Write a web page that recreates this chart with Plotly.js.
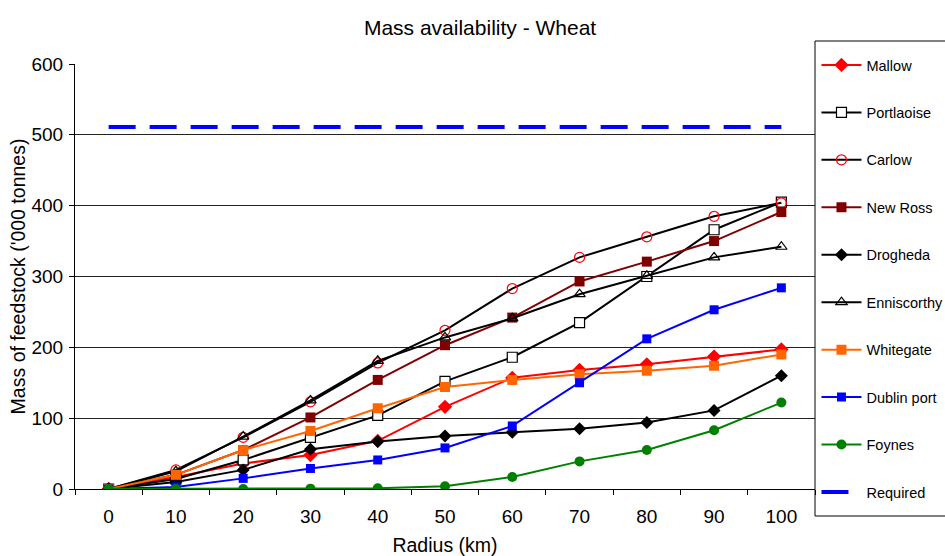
<!DOCTYPE html>
<html>
<head>
<meta charset="utf-8">
<script src="https://cdn.plot.ly/plotly-3.0.1.min.js"></script>
<style>html,body{margin:0;padding:0;background:#fff;}#chart{width:945px;height:556px;}</style>
</head>
<body>
<div id="chart"></div>
<script>
const radius = ["0","10","20","30","40","50","60","70","80","90","100"];
const mallow      = [0, 17, 36, 48, 68, 116, 157, 168, 176, 187, 197];
const portlaoise  = [0, 14, 41, 73, 104, 152, 186, 235, 300, 366, 405];
const carlow      = [0, 27, 73, 123, 178, 224, 283, 327, 356, 385, 404];
const newRoss     = [0, 20, 55, 101, 154, 203, 242, 293, 321, 350, 391];
const drogheda    = [0, 10, 27, 56, 67, 75, 80, 85, 94, 111, 160];
const enniscorthy = [0, 25, 74, 125, 181, 214, 241, 275, 301, 327, 342];
const whitegate   = [0, 20, 55, 82, 114, 144, 154, 162, 167, 174, 190];
const dublinPort  = [0, 3, 15, 29, 41, 58, 89, 150, 212, 253, 284];
const foynes      = [0, 0, 0, 0.5, 1, 4, 17, 39, 55, 83, 122];
const required    = [511, 511, 511, 511, 511, 511, 511, 511, 511, 511, 511];

function tr(name, y, lineColor, marker, grp) {
  return {
    type: 'scatter', mode: 'lines+markers', name: name, x: radius, y: y,
    line: {color: lineColor, width: 2}, marker: marker, legendgroup: grp
  };
}
const data = [
  tr('Mallow', mallow, '#FF0000', {symbol: 'diamond', size: 11, color: '#FF0000'}, 'g1'),
  tr('Portlaoise', portlaoise, '#000000', {symbol: 'square', size: 10, color: '#FFFFFF', line: {color: '#000000', width: 1.2}}, 'g2'),
  tr('Carlow', carlow, '#000000', {symbol: 'circle-open', size: 10, color: '#FF0000', line: {color: '#FF0000', width: 1.2}}, 'g3'),
  tr('New Ross', newRoss, '#800000', {symbol: 'square', size: 10, color: '#800000'}, 'g4'),
  tr('Drogheda', drogheda, '#000000', {symbol: 'diamond', size: 10, color: '#000000'}, 'g5'),
  tr('Enniscorthy', enniscorthy, '#000000', {symbol: 'triangle-up-open', size: 10, color: '#000000', line: {color: '#000000', width: 1.2}}, 'g6'),
  tr('Whitegate', whitegate, '#FF6600', {symbol: 'square', size: 10, color: '#FF6600'}, 'g7'),
  tr('Dublin port', dublinPort, '#0000FF', {symbol: 'square', size: 9, color: '#0000FF'}, 'g8'),
  tr('Foynes', foynes, '#008000', {symbol: 'circle', size: 10, color: '#008000'}, 'g9'),
  {type: 'scatter', mode: 'lines', name: 'Required', x: radius, y: required,
   line: {color: '#0000FF', width: 4, dash: '27px,14px'}, legendgroup: 'g10'}
];

const H = 556, plotTop = 64, plotBot = 489, plotH = plotBot - plotTop;
function py(pix) { return (plotBot - pix) / plotH; }

const layout = {
  width: 945, height: 556,
  margin: {l: 75, r: 130, t: 64, b: 67, autoexpand: false},
  paper_bgcolor: '#FFFFFF', plot_bgcolor: '#FFFFFF',
  font: {family: 'Liberation Sans, Arial, sans-serif', color: '#000000', size: 19},
  title: {text: 'Mass availability - Wheat', font: {size: 21, color: '#000000'},
          xref: 'container', x: 0.508, xanchor: 'center', yref: 'container', y: 0.951, yanchor: 'middle'},
  xaxis: {
    type: 'category', range: [-0.5, 10.5], tickson: 'boundaries',
    ticks: 'outside', ticklen: 5, tickcolor: '#000000',
    showline: true, linecolor: '#000000', linewidth: 1,
    showgrid: false, zeroline: false,
    tickfont: {size: 19}, ticklabelstandoff: 10,
    title: {text: 'Radius (km)', font: {size: 19.5}, standoff: 16}
  },
  yaxis: {
    range: [0, 600], dtick: 100, tick0: 0,
    ticks: 'outside', ticklen: 5, tickcolor: '#000000',
    showline: true, linecolor: '#000000', linewidth: 1,
    showgrid: true, gridcolor: '#222222', gridwidth: 1, zeroline: false,
    tickfont: {size: 19}, ticklabelstandoff: 2,
    title: {text: "Mass of feedstock ('000 tonnes)", font: {size: 19.5}, standoff: 0}
  },
  shapes: [{
    type: 'rect', xref: 'paper', yref: 'paper',
    x0: 1, x1: 1.3, y0: py(516), y1: py(41),
    line: {color: '#000000', width: 1}, fillcolor: 'rgba(0,0,0,0)', layer: 'above'
  }],
  legend: {
    x: 1.002, xanchor: 'left', xref: 'paper',
    y: 1 - 49/H, yref: 'container', yanchor: 'top',
    borderwidth: 0, bgcolor: 'rgba(0,0,0,0)',
    font: {size: 14.5, color: '#000000'},
    traceorder: 'grouped', tracegroupgap: 25.6, itemwidth: 40,
    maxheight: 500
  },
  showlegend: true
};
Plotly.newPlot('chart', data, layout, {displayModeBar: false, staticPlot: true});
</script>
</body>
</html>
